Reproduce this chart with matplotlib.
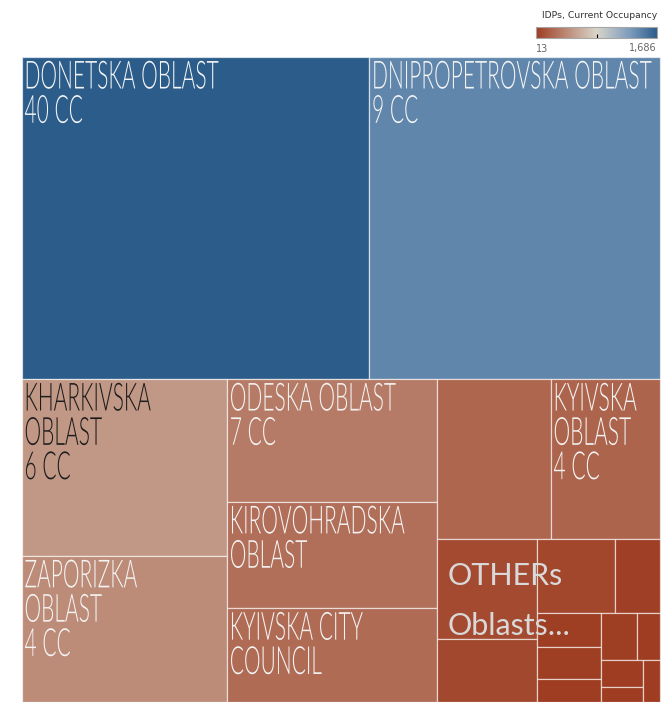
import numpy as np
import matplotlib
matplotlib.use("Agg")
import matplotlib.pyplot as plt
from matplotlib.patches import Rectangle
from matplotlib.colors import LinearSegmentedColormap, Normalize
from matplotlib.cm import ScalarMappable
from matplotlib.patheffects import AbstractPathEffect
from matplotlib.transforms import Affine2D
from matplotlib import font_manager

# ---------------- data ----------------
names = ["Donetska Oblast", "Dnipropetrovska Oblast", "Kharkivska Oblast",
         "Zaporizka Oblast", "Odeska Oblast", "Kirovohradska Oblast",
         "Kyivska City Council", "Oblast 8", "Kyivska Oblast",
         "Other 1", "Other 2", "Other 3", "Other 4", "Other 5", "Other 6",
         "Other 7", "Other 8", "Other 9", "Other 10", "Other 11", "Other 12"]
# size measure (relative area of each cell)
size_values = [1119, 937, 363, 300, 258, 223, 197, 182, 175,
               100, 63.5, 57.7, 33.3, 21.7, 20.4, 14.7, 16.9, 11.0, 11.3, 6.3, 7.3]
# colour measure: IDPs, current occupancy
occupancy = [1686, 1440, 515, 450, 356, 290, 273, 240, 231,
             88, 74, 70, 32, 22, 20, 18, 24, 16, 17, 13, 15]
labels = ["DONETSKA OBLAST\n40 CC", "DNIPROPETROVSKA OBLAST\n9 CC",
          "KHARKIVSKA\nOBLAST\n6 CC", "ZAPORIZKA\nOBLAST\n4 CC",
          "ODESKA OBLAST\n7 CC", "KIROVOHRADSKA\nOBLAST",
          "KYIVSKA CITY\nCOUNCIL", "", "KYIVSKA\nOBLAST\n4 CC",
          "", "", "", "", "", "", "", "", "", "", "", ""]
dark_label = ["KHARKIVSKA\nOBLAST\n6 CC"]
# number of cells in each successive strip of the treemap
strip_counts = [2, 2, 3, 2, 2, 2, 3, 2, 2, 1]
others_start = 9
vmin, vmax = 13, 1686

# ---------------- helpers ----------------
def strip_layout(values, counts, x0, y0, x1, y1):
    rects = []
    i = 0
    for c in counts:
        group = values[i:i + c]
        gsum = float(sum(group))
        remaining = float(sum(values[i:]))
        w, h = x1 - x0, y1 - y0
        frac = gsum / remaining
        if w <= h:
            sh = h * frac
            cx = x0
            for v in group:
                cw = w * v / gsum
                rects.append((cx, y0, cw, sh))
                cx += cw
            y0 += sh
        else:
            sw = w * frac
            cy = y0
            for v in group:
                ch = h * v / gsum
                rects.append((x0, cy, sw, ch))
                cy += ch
            x0 += sw
        i += c
    return rects


class Stretch(AbstractPathEffect):
    """Scale glyphs vertically about their baseline (tall, condensed lettering)."""
    def __init__(self, sy=1.0):
        super().__init__()
        self.sy = sy

    def draw_path(self, renderer, gc, tpath, affine, rgbFace=None):
        renderer.draw_path(gc, tpath, Affine2D().scale(1.0, self.sy) + affine, rgbFace)


fonts = font_manager.fontManager.ttflist
installed = {f.name for f in fonts}
lato_light = any(f.name == "Lato" and int(f.weight) <= 350 for f in fonts)
if lato_light:
    LABEL_FAMILY, LABEL_WEIGHT, LABEL_SIZE, SY = "Lato", 300, 15.1, 1.85
elif "Liberation Sans Narrow" in installed:
    LABEL_FAMILY, LABEL_WEIGHT, LABEL_SIZE, SY = "Liberation Sans Narrow", "normal", 16.8, 1.65
else:
    LABEL_FAMILY, LABEL_WEIGHT, LABEL_SIZE, SY = "DejaVu Sans", "normal", 13.8, 2.0
OTHER_FAMILY = "Lato" if "Lato" in installed else "DejaVu Sans"

cmap = LinearSegmentedColormap.from_list(
    "orange_blue", [(0.0, "#9e3d22"), (0.5, "#d9d5c9"), (0.78, "#7c9bbd"), (1.0, "#2b5c8a")])
norm = Normalize(vmin, vmax)

# ---------------- figure ----------------
W, H = 671, 702
fig = plt.figure(figsize=(W / 100, H / 100), dpi=100)
fig.patch.set_facecolor("white")
ax = fig.add_axes([0, 0, 1, 1])
ax.set_xlim(0, W)
ax.set_ylim(H, 0)
ax.axis("off")

rects = strip_layout(size_values, strip_counts, 21.5, 57, 660, 702)
for (x, y, w, h), occ in zip(rects, occupancy):
    ax.add_patch(Rectangle((x, y), w, h, facecolor=cmap(norm(occ)),
                           edgecolor=(1, 1, 1, 0.6), linewidth=0.9))

for (x, y, w, h), lab in zip(rects, labels):
    if not lab:
        continue
    col = "#1c1c1c" if lab in dark_label else "#f4f4f4"
    for k, line in enumerate(lab.split("\n")):
        t = ax.text(x + 3, y + 31.5 + 34.3 * k, line, ha="left", va="baseline",
                    fontsize=LABEL_SIZE, family=LABEL_FAMILY, fontweight=LABEL_WEIGHT,
                    color=col)
        t.set_path_effects([Stretch(SY)])

ox, oy = rects[others_start][0], rects[others_start][1]
ax.text(ox + 11, oy + 46, "OTHERs", ha="left", va="baseline", fontsize=22,
        family=OTHER_FAMILY, color="#d9d9d9")
ax.text(ox + 11, oy + 96, "Oblasts...", ha="left", va="baseline", fontsize=22,
        family=OTHER_FAMILY, color="#d9d9d9")

# ---------------- colour legend ----------------
ax.text(657, 18.5, "IDPs, Current Occupancy", ha="right", va="baseline",
        fontsize=6.7, color="#333333")
cax = fig.add_axes([536 / W, 1 - 37.7 / H, 121 / W, 11 / H])
sm = ScalarMappable(norm=norm, cmap=cmap)
cb = fig.colorbar(sm, cax=cax, orientation="horizontal")
cb.outline.set_edgecolor("#a6a6a6")
cb.outline.set_linewidth(0.8)
cb.set_ticks([(vmin + vmax) / 2])
cax.tick_params(axis="x", direction="in", length=3, width=0.8, color="black",
                labelbottom=False)
ax.text(536, 51.5, f"{vmin:,}", ha="left", va="baseline", fontsize=7, color="#666666")
ax.text(657, 51.5, f"{vmax:,}", ha="right", va="baseline", fontsize=7, color="#666666")

fig.savefig("out.png", dpi=100, facecolor="white")
